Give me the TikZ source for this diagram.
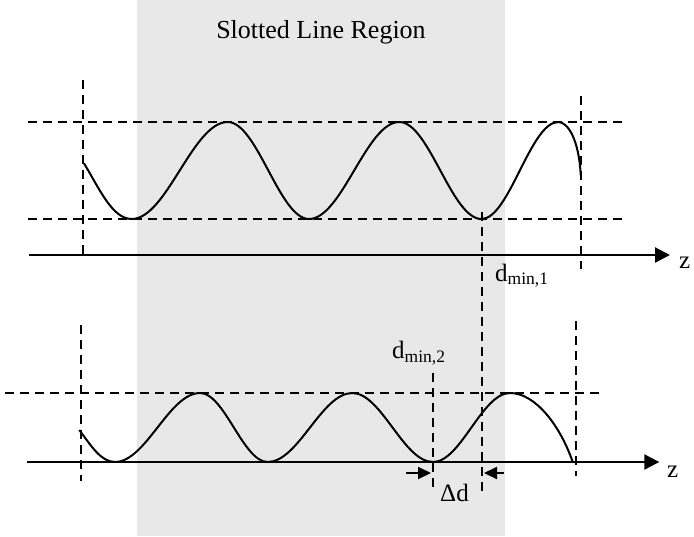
\documentclass[tikz,border=0pt]{standalone}
\usepackage{fontspec}
\setmainfont{Liberation Serif}
\usetikzlibrary{arrows.meta}
\begin{document}
\begin{tikzpicture}[x=1pt,y=-1pt,
  lbl/.style={inner sep=0pt,anchor=base west,font=\fontsize{25}{30}\selectfont},
  guide/.style={line width=2pt,dash pattern=on 9pt off 6pt},
  wave/.style={line width=2pt},
  axis/.style={line width=2.2pt,-{Triangle[length=15pt,width=15pt]}},
  dpoint/.style={line width=2pt,-{Triangle[length=13pt,width=12pt]}}]
\useasboundingbox (0,0) rectangle (694,536);
\fill[gray!18] (137,0) rectangle (505,536);
\node[inner sep=0pt,anchor=base,font=\fontsize{26}{30}\selectfont] (title) at (321,38) {Slotted Line Region};
% top panel
\coordinate (t1a) at (28,122); \coordinate (t1b) at (622,122);
\coordinate (t2a) at (28,219); \coordinate (t2b) at (622,219);
\draw[guide] (t1a) -- (t1b);
\draw[guide] (t2a) -- (t2b);
\coordinate (ta0) at (29,255); \coordinate (ta1) at (670,255);
\draw[axis] (ta0) -- (ta1);
\node[lbl] (z1) at (679,268) {z};
\coordinate (tl0) at (83,80); \coordinate (tl1) at (83,255);
\draw[guide] (tl0) -- (tl1);
\coordinate (tr0) at (581,96); \coordinate (tr1) at (581,269);
\draw[guide] (tr0) -- (tr1);
\coordinate (dm1a) at (482,212); \coordinate (dm1b) at (482,495);
\draw[guide] (dm1a) -- (dm1b);
\draw[wave] (84,163.3) .. controls (99.7,189.4) and (112.6,219) .. (131.7,219)
  .. controls (166.6,219) and (192.8,122) .. (227.7,122)
  .. controls (257.2,122) and (279.5,219) .. (309,219)
  .. controls (341.8,219) and (366.5,122) .. (399.3,122)
  .. controls (429.1,122) and (451.5,219) .. (481.5,219)
  .. controls (509.3,219) and (530.3,122) .. (558.3,122)
  .. controls (568,122) and (579,140) .. (580.7,175);
\node[lbl] (dmin1) at (495,281) {d\textsubscript{min,1}};
% bottom panel
\coordinate (b1a) at (5,393); \coordinate (b1b) at (599,393);
\draw[guide] (b1a) -- (b1b);
\coordinate (ba0) at (27,462); \coordinate (ba1) at (659.3,462);
\draw[axis] (ba0) -- (ba1);
\node[lbl] (z2) at (667,477) {z};
\coordinate (bl0) at (81,325); \coordinate (bl1) at (81,481);
\draw[guide] (bl0) -- (bl1);
\coordinate (br0) at (576,321); \coordinate (br1) at (576,476);
\draw[guide] (br0) -- (br1);
\coordinate (dm2a) at (433,373); \coordinate (dm2b) at (433,492);
\draw[guide] (dm2a) -- (dm2b);
\draw[wave] (79.3,430) .. controls (91.3,446) and (101,462) .. (115,462)
  .. controls (145.9,462) and (169.1,393) .. (200,393)
  .. controls (224.6,393) and (243.1,462) .. (267.7,462)
  .. controls (298.5,462) and (321.5,393) .. (352.3,393)
  .. controls (381.5,393) and (403.5,462) .. (433,462)
  .. controls (460.8,462) and (481.9,393) .. (510,393)
  .. controls (535,393) and (560,425) .. (572.7,462);
\node[lbl] (dmin2) at (392,358.3) {d\textsubscript{min,2}};
\coordinate (al0) at (406,473); \coordinate (al1) at (431,473);
\coordinate (ar0) at (504,473); \coordinate (ar1) at (484,473);
\draw[dpoint] (al0) -- (al1);
\draw[dpoint] (ar0) -- (ar1);
\node[lbl] (dd) at (440,501) {Δd};
\end{tikzpicture}
\end{document}
